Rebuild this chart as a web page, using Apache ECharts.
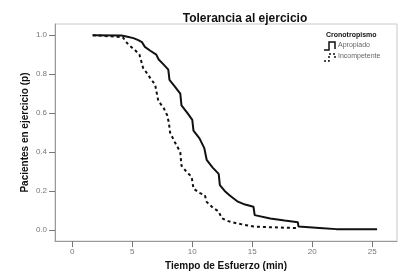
<!DOCTYPE html>
<html>
<head>
<meta charset="utf-8">
<script src="https://cdn.jsdelivr.net/npm/echarts@6/dist/echarts.min.js"></script>
<style>
html, body { margin: 0; padding: 0; background: #fff; }
#main { width: 400px; height: 276px; }
</style>
</head>
<body>
<div id="main"></div>
<script>
// Kaplan-Meier curves, [minutes, proportion]
var apropiado = [
    [1.7, 1.0], [4.1, 0.998], [4.6, 0.992], [5.1, 0.985], [5.5, 0.975], [5.8, 0.965],
    [6.05, 0.94], [6.5, 0.92], [7.0, 0.9], [7.2, 0.875], [7.6, 0.85], [8.0, 0.823],
    [8.1, 0.77], [8.5, 0.74], [9.0, 0.70], [9.1, 0.64], [9.6, 0.60], [10.0, 0.565],
    [10.1, 0.51], [10.6, 0.47], [11.0, 0.42], [11.2, 0.36], [11.7, 0.32], [12.2, 0.288],
    [12.3, 0.23], [12.7, 0.2], [13.1, 0.178], [13.8, 0.145], [14.4, 0.13], [15.1, 0.119],
    [15.2, 0.076], [16.5, 0.059], [17.7, 0.048], [18.8, 0.039], [18.85, 0.017],
    [20.9, 0.009], [22.0, 0.004], [25.4, 0.004]
];
var incompetente = [
    [1.7, 1.0], [4.2, 0.99], [4.5, 0.965], [4.7, 0.95], [5.2, 0.925], [5.6, 0.9],
    [5.9, 0.832], [6.3, 0.798], [6.6, 0.77], [6.9, 0.747], [7.17, 0.662], [7.6, 0.628],
    [7.9, 0.59], [8.05, 0.55], [8.15, 0.50], [8.55, 0.45], [9.0, 0.40], [9.1, 0.33],
    [9.5, 0.30], [9.95, 0.272], [10.1, 0.212], [10.6, 0.19], [11.05, 0.178], [11.2, 0.144],
    [11.7, 0.115], [12.2, 0.094], [12.45, 0.06], [13.0, 0.045], [13.7, 0.034],
    [15.1, 0.017], [18.8, 0.009]
];
var xTicks = [0, 5, 10, 15, 20, 25];
var yTicks = [0, 0.2, 0.4, 0.6, 0.8, 1.0];

var myChart = echarts.init(document.getElementById('main'));
var option = {
    animation: false,
    title: {
        text: 'Tolerancia al ejercicio',
        left: 240,
        top: 8,
        textAlign: 'center',
        textStyle: { fontFamily: 'Liberation Sans', fontSize: 12, fontWeight: 'bold', color: '#111' }
    },
    grid: {
        left: 55, right: 3, top: 24, bottom: 33,
        show: true, borderColor: '#c8c8c8', borderWidth: 1
    },
    xAxis: {
        type: 'value',
        min: -1.44, max: 27.06,
        name: 'Tiempo de Esfuerzo (min)',
        nameLocation: 'middle',
        nameGap: 18,
        nameTextStyle: { fontFamily: 'Liberation Sans', fontSize: 10, fontWeight: 'bold', color: '#111' },
        axisLine: { onZero: false, lineStyle: { color: '#999' } },
        axisTick: { customValues: xTicks, length: 6, lineStyle: { color: '#777' } },
        axisLabel: { customValues: xTicks, fontFamily: 'Liberation Sans', fontSize: 8, color: '#777', margin: 7 },
        splitLine: { show: false }
    },
    yAxis: {
        type: 'value',
        min: -0.0575, max: 1.0575,
        name: 'Pacientes en ejercicio (p)',
        nameLocation: 'middle',
        nameGap: 25,
        nameMoveOverlap: false,
        nameTextStyle: { fontFamily: 'Liberation Sans', fontSize: 10, fontWeight: 'bold', color: '#111' },
        axisLine: { show: true, onZero: false, lineStyle: { color: '#999' } },
        axisTick: { show: true, customValues: yTicks, length: 6, lineStyle: { color: '#777' } },
        axisLabel: {
            customValues: yTicks, fontFamily: 'Liberation Sans', fontSize: 8, color: '#777', margin: 8,
            formatter: function (v) { return v.toFixed(1); }
        },
        splitLine: { show: false }
    },
    graphic: [
        { type: 'text', left: 326, top: 32, style: { text: 'Cronotropismo', font: 'bold 7px "Liberation Sans"', fill: '#111' } },
        { type: 'polyline', shape: { points: [[324, 50], [329, 50], [329, 42], [335, 42], [335, 49]] }, style: { stroke: '#111', lineWidth: 1.5, fill: null } },
        { type: 'text', left: 338, top: 42, style: { text: 'Apropiado', font: '7px "Liberation Sans"', fill: '#666' } },
        { type: 'polyline', shape: { points: [[324, 61], [329, 61], [329, 54], [335, 54], [335, 60]] }, style: { stroke: '#111', lineWidth: 1.5, fill: null, lineDash: [2, 2] } },
        { type: 'text', left: 338, top: 53, style: { text: 'Incompetente', font: '7px "Liberation Sans"', fill: '#666' } }
    ],
    series: [
        {
            name: 'Apropiado',
            type: 'line',
            data: apropiado,
            showSymbol: false,
            lineStyle: { color: '#111', width: 2 }
        },
        {
            name: 'Incompetente',
            type: 'line',
            data: incompetente,
            showSymbol: false,
            lineStyle: { color: '#111', width: 2, type: [3, 3] }
        }
    ]
};
option && myChart.setOption(option);
</script>
</body>
</html>
